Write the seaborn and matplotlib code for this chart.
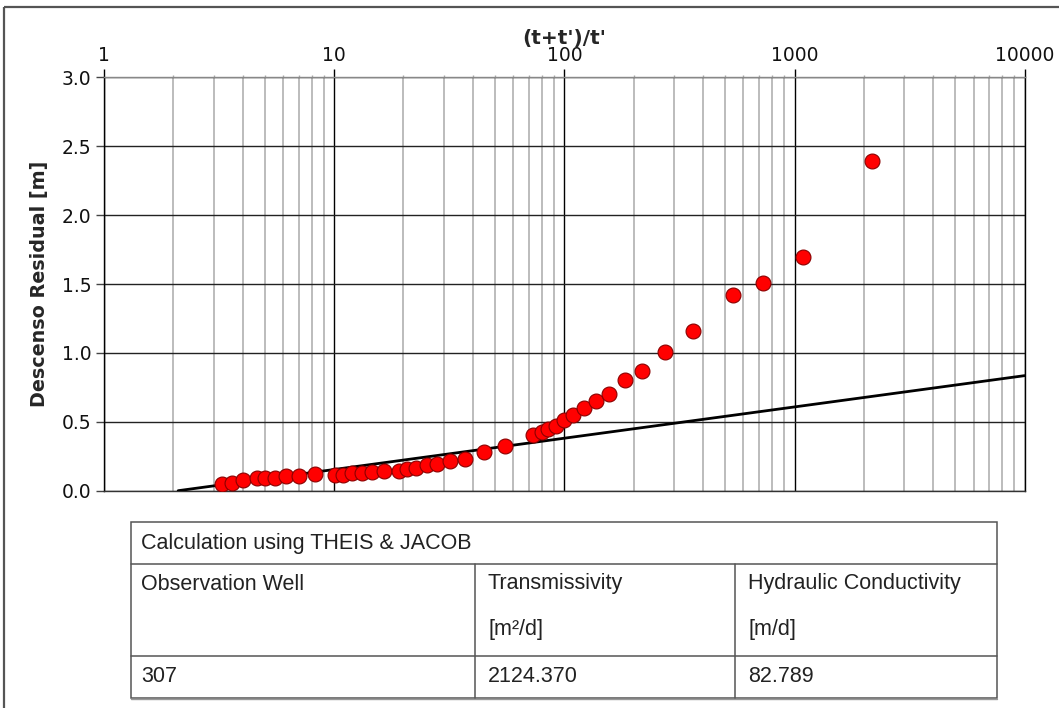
import matplotlib
matplotlib.use('Agg')
import matplotlib.pyplot as plt
import pandas as pd
import seaborn as sns
from matplotlib.patches import Rectangle
from matplotlib.ticker import LogLocator, NullFormatter, FixedLocator, FixedFormatter

# Recovery data: (t+t')/t' vs residual drawdown [m]
ratio = [3.25, 3.59, 4.00, 4.63, 5.02, 5.55, 6.19, 7.01, 8.23, 10.05,
         10.9, 11.95, 13.2, 14.6, 16.4, 19.1, 20.8, 22.7, 25.2, 28.0,
         31.9, 37.2, 44.6, 55.2, 72.8, 79.6, 85.1, 92.0, 99.9, 109.4,
         121.7, 136.8, 156.3, 182.9, 218, 273, 363, 542, 726, 1087, 2175]
drawdown = [0.046, 0.059, 0.078, 0.095, 0.095, 0.095, 0.105, 0.105, 0.119, 0.117,
            0.117, 0.126, 0.129, 0.134, 0.143, 0.145, 0.158, 0.167, 0.185, 0.197,
            0.216, 0.233, 0.279, 0.325, 0.407, 0.424, 0.446, 0.472, 0.511, 0.550,
            0.601, 0.652, 0.703, 0.805, 0.872, 1.005, 1.16, 1.417, 1.507, 1.698, 2.393]

# Jacob straight-line fit (end points)
fit_x = [2.1, 10000]
fit_y = [0.0, 0.835]

x_ticks = [1, 10, 100, 1000, 10000]
x_tick_labels = ['1', '10', '100', '1000', '10000']
y_ticks = [0.0, 0.5, 1.0, 1.5, 2.0, 2.5, 3.0]

# Results table
table_title = 'Calculation using THEIS & JACOB'
table_header = ['Observation Well', 'Transmissivity', 'Hydraulic Conductivity']
table_units = ['', '[m²/d]', '[m/d]']
table_values = ['307', '2124.370', '82.789']

df = pd.DataFrame({'ratio': ratio, 'drawdown': drawdown})
df_fit = pd.DataFrame({'ratio': fit_x, 'drawdown': fit_y})

sns.set_theme(style='white')
plt.rcParams['font.family'] = ['DejaVu Sans']

W, H = 1059, 708
fig = plt.figure(figsize=(W / 100, H / 100), dpi=100)
fig.patch.set_facecolor('white')

ax = fig.add_axes([104 / W, 1 - 490.7 / H, (1025 - 104.3) / W, (490.7 - 77.3) / H])
ax.set_xscale('log')

sns.lineplot(data=df_fit, x='ratio', y='drawdown', ax=ax, color='black',
             linewidth=2.0, zorder=3)
sns.scatterplot(data=df, x='ratio', y='drawdown', ax=ax, color='#ff0000',
                edgecolor='#8a0000', linewidth=0.8, s=115, zorder=4)

ax.set_xlim(1, 10000)
ax.set_ylim(0, 3.0)

ax.xaxis.set_major_locator(FixedLocator(x_ticks))
ax.xaxis.set_major_formatter(FixedFormatter(x_tick_labels))
ax.xaxis.set_minor_locator(LogLocator(base=10, subs=range(2, 10), numticks=20))
ax.xaxis.set_minor_formatter(NullFormatter())
ax.set_yticks(y_ticks)
ax.set_yticklabels([f'{v:.1f}' for v in y_ticks])

ax.xaxis.tick_top()
ax.xaxis.set_label_position('top')
ax.tick_params(axis='x', which='major', direction='out', length=6, width=1,
               color='black', pad=2.5, labelsize=13.5, labelcolor='#111111',
               top=True, bottom=False)
ax.tick_params(axis='x', which='minor', direction='out', length=1.5, width=1,
               color='#aaaaaa', top=True, bottom=False)
ax.tick_params(axis='y', which='major', direction='out', length=6, width=1,
               color='#444444', pad=3, labelsize=13.5, labelcolor='#111111', left=True)

ax.grid(True, which='major', axis='x', color='black', linewidth=1.0)
ax.grid(True, which='minor', axis='x', color='#b0b0b0', linewidth=1.2)
ax.grid(True, which='major', axis='y', color='#222222', linewidth=1.0)
ax.set_axisbelow(True)

for side, col in [('left', 'black'), ('right', 'black'), ('top', '#888888'), ('bottom', '#333333')]:
    ax.spines[side].set_color(col)
    ax.spines[side].set_linewidth(1.0)

ax.set_xlabel("(t+t')/t'", fontsize=14.5, fontweight='bold', labelpad=2)
ax.set_ylabel('Descenso Residual [m]', fontsize=13.8, fontweight='bold', labelpad=9)

# Overlay in pixel coordinates for the frame and the results table
ov = fig.add_axes([0, 0, 1, 1], zorder=5)
ov.set_xlim(0, W)
ov.set_ylim(H, 0)
ov.set_axis_off()

ov.add_patch(Rectangle((4, 7), 1200, 900, fill=False, edgecolor='#555555', linewidth=1.6))

line_kw = dict(color='#555555', linewidth=1.1)
tl, tr, tt, tb = 131, 997, 522, 698
ov.add_patch(Rectangle((tl, tt), tr - tl, tb - tt, fill=False, edgecolor='#555555', linewidth=1.1))
ov.plot([tl, tr], [564, 564], **line_kw)
ov.plot([tl, tr], [656, 656], **line_kw)
ov.plot([tl, tr], [tb + 1, tb + 1], color='#999999', linewidth=1.0)
for cx in [475, 735]:
    ov.plot([cx, cx], [564, tb], **line_kw)

tkw = dict(fontsize=15.5, family=['Liberation Sans', 'DejaVu Sans'], color='#222222',
           va='center', ha='left')
col_x = [141, 488, 748]
ov.text(141, 544, table_title, **tkw)
for cx, hdr, unit, val in zip(col_x, table_header, table_units, table_values):
    ov.text(cx, 584, hdr, **tkw)
    if unit:
        ov.text(cx, 629, unit, **tkw)
    ov.text(cx, 677, val, **tkw)

fig.savefig('out.png', dpi=100)
